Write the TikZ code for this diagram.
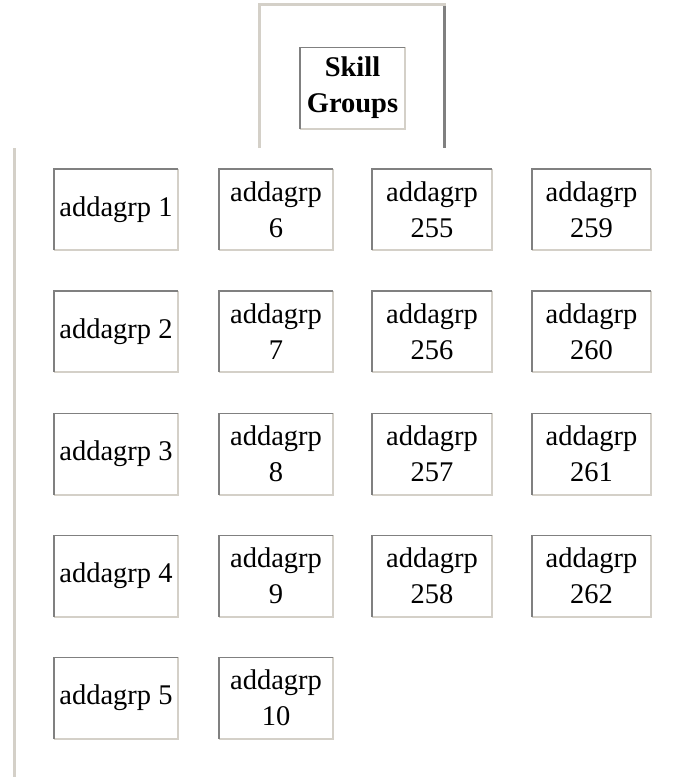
\documentclass[tikz,border=0pt]{standalone}
\usepackage{fontspec}
\setmainfont{Liberation Serif}
\usetikzlibrary{positioning}
\definecolor{bdark}{HTML}{808080}
\definecolor{blight}{HTML}{D4D0C8}
\newcommand{\grpfont}{\fontsize{28.5}{36}\selectfont}
\begin{document}
\begin{tikzpicture}[
  x=1pt, y=-1pt,
  every node/.style={font=\grpfont},
  grp/.style={rectangle, minimum width=#1, minimum height=81,
              inner sep=0pt, align=center},
  dk/.style={draw=bdark, line width=1.6pt},
  lt/.style={draw=blight, line width=1.6pt},
  frame/.style={draw=blight, line width=3pt},
  framedk/.style={draw=bdark, line width=3pt}
]
\useasboundingbox (0,0) rectangle (678,777);

% outer table frame
\draw[frame]   (259.5,148) -- (259.5,4.5) -- (446,4.5);
\draw[framedk] (444.5,6) -- (444.5,148);
\draw[frame]   (14.5,148) -- (14.5,777);

\node[grp=105, font=\grpfont\bfseries] (head) at (352.5,88) {Skill\\Groups};

% column 1
\node[grp=124] (g1) at (116,209.5) {addagrp 1};
\node[grp=124] (g2) at (116,331.5) {addagrp 2};
\node[grp=124] (g3) at (116,454)   {addagrp 3};
\node[grp=124] (g4) at (116,576)   {addagrp 4};
\node[grp=124] (g5) at (116,698)   {addagrp 5};

% column 2
\node[grp=114] (g6)  at (276,209.5) {addagrp\\6};
\node[grp=114] (g7)  at (276,331.5) {addagrp\\7};
\node[grp=114] (g8)  at (276,454)   {addagrp\\8};
\node[grp=114] (g9)  at (276,576)   {addagrp\\9};
\node[grp=114] (g10) at (276,698)   {addagrp\\10};

% column 3
\node[grp=120] (g255) at (432,209.5) {addagrp\\255};
\node[grp=120] (g256) at (432,331.5) {addagrp\\256};
\node[grp=120] (g257) at (432,454)   {addagrp\\257};
\node[grp=120] (g258) at (432,576)   {addagrp\\258};

% column 4
\node[grp=119] (g259) at (591.5,209.5) {addagrp\\259};
\node[grp=119] (g260) at (591.5,331.5) {addagrp\\260};
\node[grp=119] (g261) at (591.5,454)   {addagrp\\261};
\node[grp=119] (g262) at (591.5,576)   {addagrp\\262};

% inset borders
\foreach \n in {head,g1,g2,g3,g4,g5,g6,g7,g8,g9,g10,
                g255,g256,g257,g258,g259,g260,g261,g262} {
  \draw[lt] (\n.north east) |- (\n.south west);
  \draw[dk] (\n.south west) |- (\n.north east);
}
\end{tikzpicture}
\end{document}
